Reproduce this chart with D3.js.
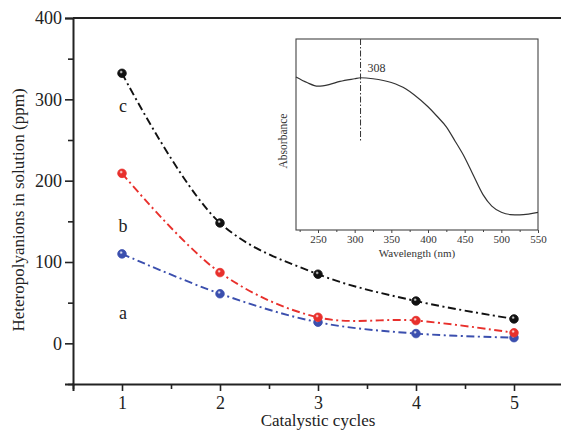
<!DOCTYPE html>
<html><head><meta charset="utf-8">
<script src="https://cdn.jsdelivr.net/npm/d3@7"></script>
<style>body{margin:0;background:#fff}svg{display:block}</style>
</head><body>
<svg id="c" width="561" height="431"></svg>
<script>
// ---- data ----
const cycles = [1, 2, 3, 4, 5];
const seriesA = [110, 61, 26, 12, 7];
const seriesB = [209, 87, 32, 28, 13];
const seriesC = [332, 148, 85, 52, 30];
const seriesNames = ["a", "b", "c"];
const yTicks = [0, 100, 200, 300, 400];
const xTicks = [1, 2, 3, 4, 5];
const insetWl = [220, 235, 250, 265, 280, 300, 308, 325, 350, 370, 381, 400, 412, 425, 437, 450, 462, 475, 487, 500, 512, 525, 537, 550];
const insetAbs = [0.801, 0.772, 0.753, 0.761, 0.778, 0.792, 0.797, 0.792, 0.772, 0.738, 0.708, 0.645, 0.597, 0.540, 0.465, 0.380, 0.285, 0.185, 0.125, 0.093, 0.081, 0.079, 0.083, 0.092];
const insetTicks = [250, 300, 350, 400, 450, 500, 550];
const peakWl = 308;

const svg = d3.select("#c");
const font = "'Liberation Serif','Times New Roman',serif";

const x = d3.scaleLinear().domain([0.5, 5.5]).range([73, 563]);
const y = d3.scaleLinear().domain([-50, 400]).range([384, 18]);

// gradients for markers
const defs = svg.append("defs");
const colors = {a: "#3b4fae", b: "#e8302c", c: "#111111"};
Object.entries(colors).forEach(([k, col]) => {
  const g = defs.append("radialGradient").attr("id", "g" + k).attr("cx", "40%").attr("cy", "35%").attr("r", "60%");
  g.append("stop").attr("offset", "0%").attr("stop-color", "#fff");
  g.append("stop").attr("offset", "35%").attr("stop-color", col);
  g.append("stop").attr("offset", "100%").attr("stop-color", col);
});

// frame top line
svg.append("line").attr("x1", 73).attr("x2", 561).attr("y1", 18).attr("y2", 18)
  .attr("stroke", "#222").attr("stroke-width", 2);

// y axis
const yAxis = d3.axisLeft(y).tickValues(yTicks).tickSize(8).tickPadding(3).tickFormat(d3.format("d"));
const gy = svg.append("g").attr("transform", "translate(73,0)").call(yAxis);
gy.select(".domain").attr("stroke", "#222").attr("stroke-width", 2);
gy.selectAll(".tick line").attr("stroke", "#222").attr("stroke-width", 1.6);
gy.selectAll("text").attr("font-family", font).attr("font-size", 18).attr("fill", "#222");
const gy2 = svg.append("g").attr("transform", "translate(73,0)")
  .call(d3.axisLeft(y).tickValues([-50, 50, 150, 250, 350]).tickSize(5).tickFormat(""));
gy2.select(".domain").remove();
gy2.selectAll(".tick line").attr("stroke", "#222").attr("stroke-width", 1.6);

// x axis
const xAxis = d3.axisBottom(x).tickValues(xTicks).tickSize(7).tickPadding(5).tickFormat(d3.format("d"));
const gx = svg.append("g").attr("transform", "translate(0,384)").call(xAxis);
gx.select(".domain").attr("stroke", "#222").attr("stroke-width", 2);
gx.selectAll(".tick line").attr("stroke", "#222").attr("stroke-width", 1.6);
gx.selectAll("text").attr("font-family", font).attr("font-size", 18).attr("fill", "#222");
const gx2 = svg.append("g").attr("transform", "translate(0,384)")
  .call(d3.axisBottom(x).tickValues([0.5, 1.5, 2.5, 3.5, 4.5]).tickSize(5).tickFormat(""));
gx2.select(".domain").remove();
gx2.selectAll(".tick line").attr("stroke", "#222").attr("stroke-width", 1.6);

// axis titles
svg.append("text").attr("x", 318).attr("y", 426).attr("text-anchor", "middle")
  .attr("font-family", font).attr("font-size", 17).attr("fill", "#222").text("Catalystic cycles");
svg.append("text").attr("transform", "translate(24,210) rotate(-90)").attr("text-anchor", "middle")
  .attr("font-family", font).attr("font-size", 17).attr("fill", "#222").text("Heteropolyanions in solution (ppm)");

// series
const series = [
  {k: "a", vals: seriesA},
  {k: "b", vals: seriesB},
  {k: "c", vals: seriesC}
];
const line = d3.line().x(d => x(d[0])).y(d => y(d[1])).curve(d3.curveCatmullRom.alpha(0.5));
series.forEach(s => {
  const pts = cycles.map((c, i) => [c, s.vals[i]]);
  svg.append("path").attr("d", line(pts)).attr("fill", "none")
    .attr("stroke", colors[s.k]).attr("stroke-width", 1.9)
    .attr("stroke-dasharray", "8,3.5,2,3.5");
  svg.selectAll(null).data(pts).enter().append("circle")
    .attr("cx", d => x(d[0])).attr("cy", d => y(d[1])).attr("r", 4.3)
    .attr("fill", `url(#g${s.k})`).attr("stroke", colors[s.k]).attr("stroke-width", 0.8);
});

// series labels
const labelVals = {c: 290, b: 142, a: 35};
seriesNames.forEach(n => {
  svg.append("text").attr("x", x(1) + 1).attr("y", y(labelVals[n])).attr("text-anchor", "middle")
    .attr("dominant-baseline", "middle")
    .attr("font-family", font).attr("font-size", 18).attr("fill", "#222").text(n);
});

// ---- inset ----
const ix = d3.scaleLinear().domain([220, 550]).range([296, 538]);
const iy = d3.scaleLinear().domain([0, 1]).range([230, 39]);
const ig = svg.append("g");
ig.append("rect").attr("x", 296).attr("y", 39).attr("width", 242).attr("height", 191)
  .attr("fill", "none").attr("stroke", "#444").attr("stroke-width", 1.1);
const iax = ig.append("g").attr("transform", "translate(0,230)")
  .call(d3.axisBottom(ix).tickValues(insetTicks).tickSize(3).tickPadding(2).tickFormat(d3.format("d")));
iax.select(".domain").remove();
iax.selectAll(".tick line").attr("stroke", "#444");
iax.selectAll("text").attr("font-family", font).attr("font-size", 11).attr("fill", "#333");
const iax2 = ig.append("g").attr("transform", "translate(0,230)")
  .call(d3.axisBottom(ix).tickValues([225, 275, 325, 375, 425, 475, 525]).tickSize(2).tickFormat(""));
iax2.select(".domain").remove();
iax2.selectAll(".tick line").attr("stroke", "#444");

const iline = d3.line().x((d, i) => ix(insetWl[i])).y(d => iy(d)).curve(d3.curveMonotoneX);
ig.append("path").attr("d", iline(insetAbs)).attr("fill", "none").attr("stroke", "#333").attr("stroke-width", 1.2);

ig.append("line").attr("x1", ix(peakWl)).attr("x2", ix(peakWl)).attr("y1", 39).attr("y2", iy(0.463))
  .attr("stroke", "#333").attr("stroke-width", 1).attr("stroke-dasharray", "6,2,1.5,2");
ig.append("text").attr("x", ix(peakWl) + 7).attr("y", 72).attr("font-family", font).attr("font-size", 12)
  .attr("fill", "#333").text(String(peakWl));

ig.append("text").attr("x", 417).attr("y", 257).attr("text-anchor", "middle")
  .attr("font-family", font).attr("font-size", 11).attr("fill", "#333").text("Wavelength (nm)");
ig.append("text").attr("transform", "translate(287,141) rotate(-90)").attr("text-anchor", "middle")
  .attr("font-family", font).attr("font-size", 11.5).attr("fill", "#333").text("Absorbance");
</script>
</body></html>
